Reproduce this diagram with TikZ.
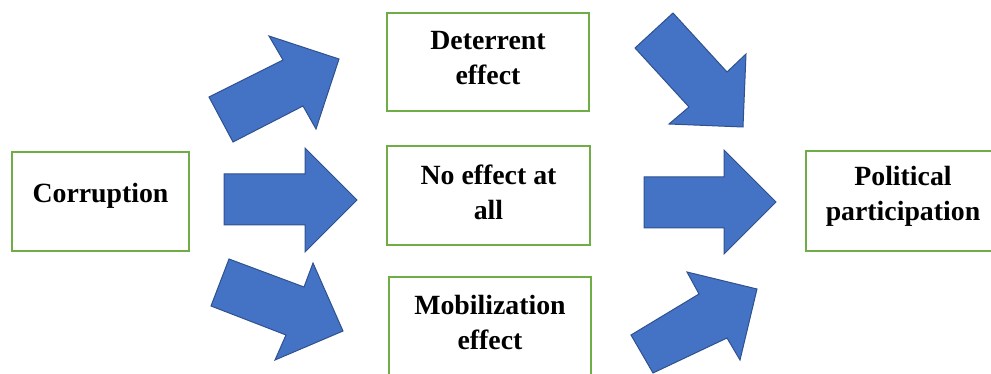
\documentclass[tikz,border=0pt]{standalone}
\usepackage{fontspec}
\setmainfont{Liberation Serif}
\definecolor{boxgreen}{HTML}{70AD47}
\definecolor{arrowblue}{HTML}{4472C4}
\definecolor{arrowedge}{HTML}{2F528F}
\tikzset{
    box/.style={draw=boxgreen, line width=2pt, fill=white, inner sep=0pt},
    boxtext/.style={align=center, inner sep=0pt, font=\fontsize{27.8}{35}\selectfont\bfseries},
    blockarrow/.style={fill=arrowblue, draw=arrowedge, line width=1pt, line join=miter}
}
\begin{document}
\begin{tikzpicture}[x = 1pt, y = -1pt]
    \useasboundingbox (0,0) rectangle (991,374);
    \clip (0,0) rectangle (991,374);
    % boxes
    \node[box, minimum width=177pt, minimum height=99pt] (corruption) at (100.5,201.5) {};
    \node[box, minimum width=202pt, minimum height=98pt] (deterrent) at (488,62) {};
    \node[box, minimum width=203pt, minimum height=99pt] (noeffect) at (488.5,195.5) {};
    \node[box, minimum width=202pt, minimum height=99pt] (mobilization) at (490,326.5) {};
    \node[box, minimum width=194pt, minimum height=100pt] (participation) at (903,201) {};
    % texts
    \node[boxtext] (corruption text) at (100.5,195.5) {Corruption};
    \node[boxtext] (deterrent text) at (488,58) {Deterrent\\effect};
    \node[boxtext] (noeffect text) at (488.5,192.5) {No effect at\\all};
    \node[boxtext] (mobilization text) at (490,322) {Mobilization\\effect};
    \node[boxtext] (participation text) at (903,196) {Political\\participation};
    % block arrows, left column
    \filldraw[blockarrow] (209,97) -- (283,60) -- (269,36) -- (339,59) -- (316,129) -- (303,106) -- (233,142) -- cycle;
    \filldraw[blockarrow] (224,174) -- (305,174) -- (305,148) -- (357,200) -- (305,252) -- (305,225) -- (224,225) -- cycle;
    \filldraw[blockarrow] (229,259) -- (304,287) -- (313,263) -- (343,331) -- (275,360) -- (286,335) -- (211,306) -- cycle;
    % block arrows, right column
    \filldraw[blockarrow] (673,13) -- (727,72) -- (746,54) -- (743,127) -- (669,124) -- (689,107) -- (635,48) -- cycle;
    \filldraw[blockarrow] (644,177) -- (724,177) -- (724,150) -- (776,202) -- (724,254) -- (724,228) -- (644,228) -- cycle;
    \filldraw[blockarrow] (631,335) -- (699,294) -- (687,272) -- (757,289) -- (740,360) -- (727,338) -- (653,373) -- cycle;
\end{tikzpicture}
\end{document}
